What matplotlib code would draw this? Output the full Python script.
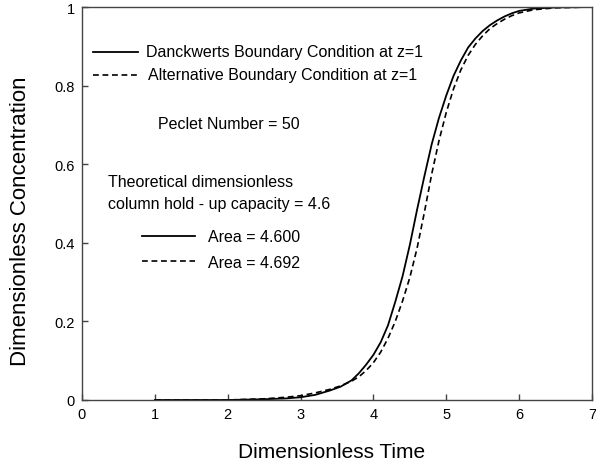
import matplotlib
matplotlib.use("Agg")
import matplotlib.pyplot as plt
from matplotlib.lines import Line2D
from matplotlib.ticker import FuncFormatter

plt.rcParams['font.family'] = ['Liberation Sans', 'DejaVu Sans']

# Danckwerts boundary condition (solid)
t_dk = [1.0, 2.0, 2.5, 2.8, 3.0, 3.2, 3.4, 3.55, 3.7, 3.8, 3.9, 4.0, 4.1, 4.2, 4.3, 4.4,
        4.5, 4.6, 4.7, 4.8, 4.9, 5.0, 5.1, 5.2, 5.3, 5.4, 5.5, 5.6, 5.7, 5.8, 5.9, 6.0,
        6.2, 6.5, 7.0]
c_dk = [0.0, 0.0, 0.002, 0.004, 0.007, 0.013, 0.024, 0.034, 0.050, 0.068, 0.090, 0.115,
        0.147, 0.190, 0.250, 0.315, 0.395, 0.485, 0.570, 0.651, 0.718, 0.775, 0.825, 0.864,
        0.897, 0.920, 0.939, 0.954, 0.966, 0.976, 0.984, 0.990, 0.996, 0.999, 1.0]

# Alternative boundary condition (dashed)
t_alt = [1.0, 2.0, 2.5, 2.8, 3.0, 3.2, 3.4, 3.55, 3.7, 3.8, 3.9, 4.0, 4.1, 4.2, 4.3, 4.4,
         4.5, 4.6, 4.7, 4.8, 4.9, 5.0, 5.1, 5.2, 5.3, 5.4, 5.5, 5.6, 5.7, 5.8, 5.9, 6.0,
         6.2, 6.5, 7.0]
c_alt = [0.0, 0.0, 0.003, 0.007, 0.011, 0.018, 0.027, 0.036, 0.048, 0.059, 0.075, 0.095,
         0.122, 0.157, 0.200, 0.252, 0.312, 0.387, 0.478, 0.575, 0.660, 0.732, 0.792, 0.840,
         0.877, 0.905, 0.927, 0.945, 0.958, 0.969, 0.978, 0.985, 0.993, 0.998, 1.0]

x_ticks = [0, 1, 2, 3, 4, 5, 6, 7]
y_ticks = [0, 0.2, 0.4, 0.6, 0.8, 1.0]

W, H = 596, 464
AX_L, AX_R, AX_T, AX_B = 82, 592, 8, 401
fig = plt.figure(figsize=(W / 100, H / 100), dpi=100)
ax = fig.add_axes([AX_L / W, 1 - AX_B / H, (AX_R - AX_L) / W, (AX_B - AX_T) / H])

DASH = (3.5, 2.2)
ax.plot(t_dk, c_dk, color='black', lw=1.3, solid_joinstyle='round')
ax.plot(t_alt, c_alt, color='black', lw=1.2, linestyle=(0, DASH))

ax.set_xlim(0, 7)
ax.set_ylim(0, 1)
ax.set_xticks(x_ticks)
ax.set_yticks(y_ticks)

def yfmt(v, pos):
    if abs(v) < 1e-9:
        return "0"
    if abs(v - 1) < 1e-9:
        return "1"
    return f"{v:.1f}"

ax.yaxis.set_major_formatter(FuncFormatter(yfmt))
ax.tick_params(direction='in', length=4, width=1, color='#444444', labelsize=10.5,
               top=False, right=False, pad=5)
for s in ax.spines.values():
    s.set_color('#444444')
    s.set_linewidth(1.0)

aw, ah = AX_R - AX_L, AX_B - AX_T
ax.set_xlabel("Dimensionless Time", fontsize=15)
ax.xaxis.set_label_coords((332 - AX_L) / aw, (AX_B - 443) / ah)
ax.set_ylabel("Dimensionless Concentration", fontsize=16)
ax.yaxis.set_label_coords((31 - AX_L) / aw, (AX_B - 221) / ah)

def ftxt(x, y, s):
    fig.text(x / W, 1 - y / H, s, fontsize=11.5, ha='left', va='center')

def fline(x0, x1, y, dashed=False):
    ln = Line2D([x0 / W, x1 / W], [1 - y / H, 1 - y / H], transform=fig.transFigure,
                color='black', lw=1.2 if dashed else 1.3,
                linestyle=(0, DASH) if dashed else '-')
    fig.add_artist(ln)

fline(93, 138, 53)
ftxt(146, 53, "Danckwerts Boundary Condition at z=1")
fline(93, 138, 76, dashed=True)
ftxt(148, 76, "Alternative Boundary Condition at z=1")
ftxt(158, 125, "Peclet Number = 50")
ftxt(108, 183, "Theoretical dimensionless")
ftxt(108, 204, "column hold - up capacity = 4.6")
fline(142, 195, 237)
ftxt(208, 238, "Area = 4.600")
fline(142, 195, 262, dashed=True)
ftxt(208, 263, "Area = 4.692")

fig.savefig("out.png", dpi=100)
